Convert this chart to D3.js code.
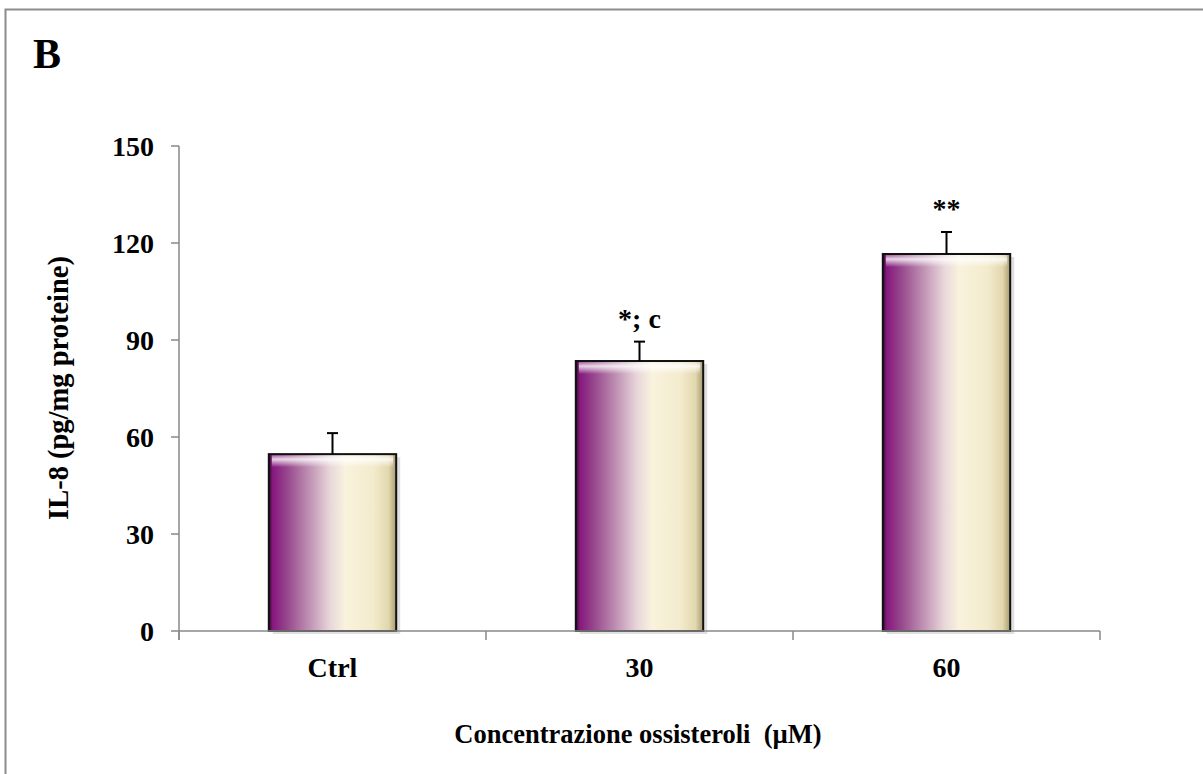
<!DOCTYPE html>
<html>
<head>
<meta charset="utf-8">
<script src="https://cdn.jsdelivr.net/npm/d3@7"></script>
<style>
  body { margin: 0; background: #fff; }
  svg text { font-family: "Liberation Serif", "Times New Roman", serif; font-weight: bold; fill: #000; }
</style>
</head>
<body>
<div id="chart-container"></div>
<script>
// Data
const categories = ["Ctrl", "30", "60"];
const values = [54.7, 83.5, 116.6];
const errors = [6.5, 6.0, 6.8];
const marks = ["", "*; c", "**"];
const yTicks = [0, 30, 60, 90, 120, 150];

const width = 1203, height = 774;
const svg = d3.select("#chart-container").append("svg")
  .attr("width", width).attr("height", height);

// Gradients
const defs = svg.append("defs");
const grad = defs.append("linearGradient").attr("id", "barGrad")
  .attr("x1", "0").attr("x2", "1").attr("y1", "0").attr("y2", "0");
[["0%", "#2e0a2c"], ["3%", "#86187e"], ["14%", "#96468c"], ["32%", "#c092b4"],
 ["48%", "#e8d6da"], ["60%", "#f9f3dd"], ["82%", "#f3ebcd"], ["94%", "#e2d7ad"], ["100%", "#a89a70"]]
  .forEach(([o, c]) => grad.append("stop").attr("offset", o).attr("stop-color", c));
const shine = defs.append("linearGradient").attr("id", "shine")
  .attr("x1", "0").attr("x2", "0").attr("y1", "0").attr("y2", "1");
[["0%", "#fff", 0.3], ["35%", "#fff", 0.8], ["100%", "#fff", 0]]
  .forEach(([o, c, a]) => shine.append("stop").attr("offset", o).attr("stop-color", c).attr("stop-opacity", a));

// Outer frame
svg.append("rect")
  .attr("x", 5.5).attr("y", 9.5).attr("width", 1220).attr("height", 800)
  .attr("fill", "none").attr("stroke", "#8c8c8c").attr("stroke-width", 2);

svg.append("text").text("B")
  .attr("x", 33).attr("y", 68).style("font-size", "42px");

// Scales
const margin = {left: 179, right: 1100, top: 146, bottom: 631};
const x = d3.scaleBand().domain(categories)
  .range([margin.left, margin.right])
  .paddingInner(0.585).paddingOuter(0.2925);
const y = d3.scaleLinear().domain([0, 150]).range([margin.bottom, margin.top]);

const chart = svg.append("g");

// Bars
const bar = chart.selectAll(".bar").data(categories).join("g").attr("class", "bar");
bar.append("rect")
  .attr("x", d => x(d) + 4).attr("y", (d, i) => y(values[i]) + 3)
  .attr("width", x.bandwidth()).attr("height", (d, i) => y(0) - y(values[i]))
  .attr("fill", "#000").attr("opacity", 0.12);
bar.append("rect")
  .attr("x", d => x(d)).attr("y", (d, i) => y(values[i]))
  .attr("width", x.bandwidth()).attr("height", (d, i) => y(0) - y(values[i]))
  .attr("fill", "url(#barGrad)");
bar.append("rect")
  .attr("x", d => x(d) + 3).attr("y", (d, i) => y(values[i]) + 1)
  .attr("width", x.bandwidth() - 6).attr("height", 12)
  .attr("fill", "url(#shine)");
bar.append("rect")
  .attr("x", d => x(d)).attr("y", (d, i) => y(values[i]))
  .attr("width", x.bandwidth()).attr("height", (d, i) => y(0) - y(values[i]))
  .attr("fill", "none").attr("stroke", "#111").attr("stroke-width", 2);

// Error bars
bar.append("line")
  .attr("x1", d => x(d) + x.bandwidth() / 2).attr("x2", d => x(d) + x.bandwidth() / 2)
  .attr("y1", (d, i) => y(values[i])).attr("y2", (d, i) => y(values[i] + errors[i]))
  .attr("stroke", "#000").attr("stroke-width", 2);
bar.append("line")
  .attr("x1", d => x(d) + x.bandwidth() / 2 - 5.5).attr("x2", d => x(d) + x.bandwidth() / 2 + 5.5)
  .attr("y1", (d, i) => y(values[i] + errors[i])).attr("y2", (d, i) => y(values[i] + errors[i]))
  .attr("stroke", "#000").attr("stroke-width", 2);

// Significance marks
bar.append("text").text((d, i) => marks[i])
  .attr("x", d => x(d) + x.bandwidth() / 2)
  .attr("y", (d, i) => y(values[i] + errors[i]) - 14)
  .attr("text-anchor", "middle").style("font-size", "28px");

// Y axis
const axisColor = "#888";
chart.append("line")
  .attr("x1", margin.left).attr("x2", margin.left)
  .attr("y1", y(150)).attr("y2", y(0) + 9)
  .attr("stroke", axisColor).attr("stroke-width", 1.5);
chart.selectAll(".ytick").data(yTicks).join("line")
  .attr("x1", margin.left - 8).attr("x2", margin.left)
  .attr("y1", d => y(d)).attr("y2", d => y(d))
  .attr("stroke", axisColor).attr("stroke-width", 1.5);
chart.selectAll(".ylab").data(yTicks).join("text")
  .text(d => d)
  .attr("x", 154).attr("y", d => y(d) + 10)
  .attr("text-anchor", "end").style("font-size", "28px");

// X axis
chart.append("line")
  .attr("x1", margin.left).attr("x2", margin.right)
  .attr("y1", y(0)).attr("y2", y(0))
  .attr("stroke", axisColor).attr("stroke-width", 1.5);
const bounds = categories.map(d => x(d) - x.step() * x.paddingInner() / 2).concat([margin.right]);
chart.selectAll(".xtick").data(bounds).join("line")
  .attr("x1", d => d).attr("x2", d => d)
  .attr("y1", y(0)).attr("y2", y(0) + 9)
  .attr("stroke", axisColor).attr("stroke-width", 1.5);
chart.selectAll(".xlab").data(categories).join("text")
  .text(d => d)
  .attr("x", d => x(d) + x.bandwidth() / 2).attr("y", 677)
  .attr("text-anchor", "middle").style("font-size", "28px");

// Axis titles
svg.append("text").text("Concentrazione ossisteroli  (µM)")
  .attr("x", 638).attr("y", 743)
  .attr("text-anchor", "middle").style("font-size", "26.5px")
  .style("white-space", "pre");
svg.append("text").text("IL-8 (pg/mg proteine)")
  .attr("transform", "translate(68,388) rotate(-90)")
  .attr("text-anchor", "middle").style("font-size", "28.5px");
</script>
</body>
</html>
